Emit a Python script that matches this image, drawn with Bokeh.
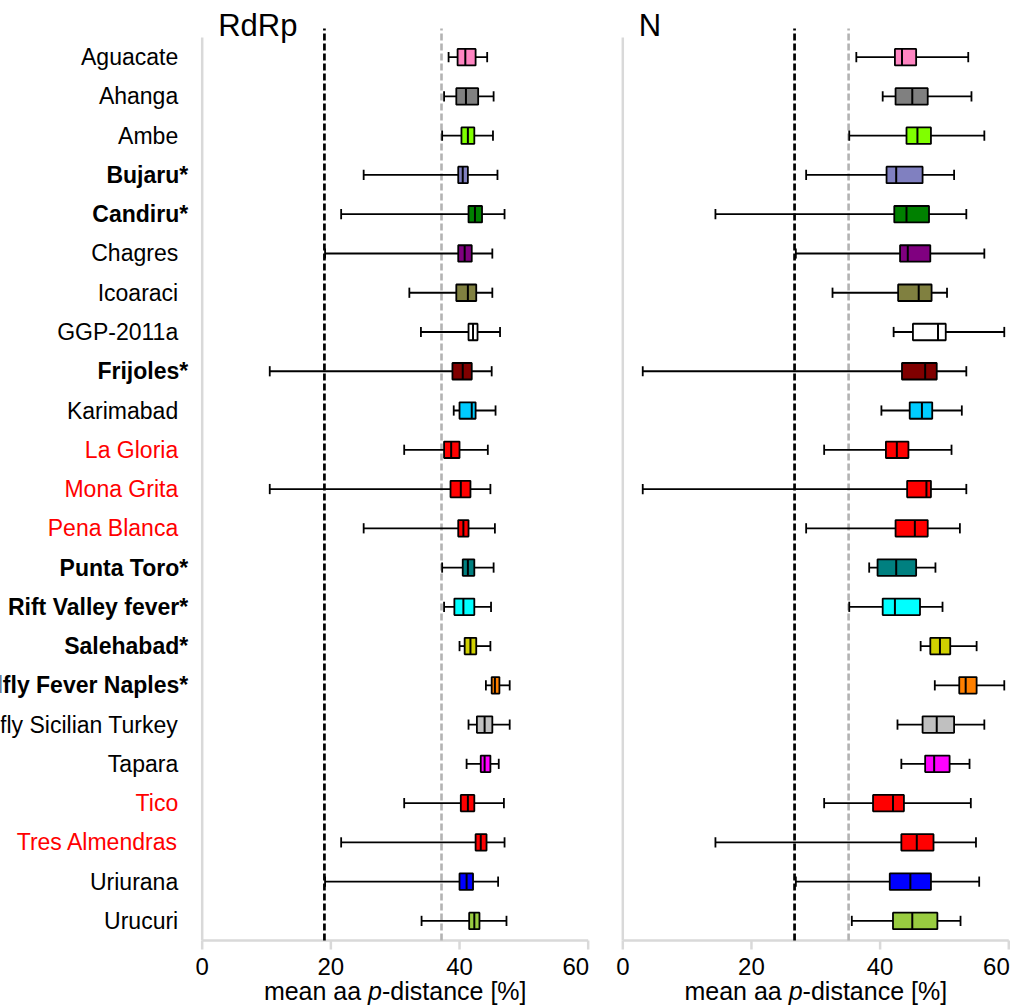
from bokeh.plotting import figure
from bokeh.layouts import row
from bokeh.models import Range1d, ColumnDataSource
from bokeh.core.properties import value
from bokeh.embed import file_html
from bokeh.resources import INLINE

# ---------------- data ----------------
viruses = ["Aguacate", "Ahanga", "Ambe", "Bujaru*", "Candiru*", "Chagres", "Icoaraci",
           "GGP-2011a", "Frijoles*", "Karimabad", "La Gloria", "Mona Grita", "Pena Blanca",
           "Punta Toro*", "Rift Valley fever*", "Salehabad*", "Sandfly Fever Naples*",
           "Sandfly Sicilian Turkey", "Tapara", "Tico", "Tres Almendras", "Uriurana", "Urucuri"]
bold_names = ["Bujaru*", "Candiru*", "Frijoles*", "Punta Toro*", "Rift Valley fever*",
              "Salehabad*", "Sandfly Fever Naples*"]
red_names = ["La Gloria", "Mona Grita", "Pena Blanca", "Tico", "Tres Almendras"]
box_colors = ["#FF85C2", "#808080", "#80FF00", "#8080C0", "#008000", "#800080", "#808040",
              "#FFFFFF", "#800000", "#00CCFF", "#FF0000", "#FF0000", "#FF0000", "#008080",
              "#00FFFF", "#D0D000", "#FF8000", "#C0C0C0", "#FF00FF", "#FF0000", "#FF0000",
              "#0000FF", "#99CC40"]

rdrp_min = [38.3, 37.6, 37.3, 25.1, 21.6, 19.1, 32.2, 34.0, 10.5, 39.1, 31.4, 10.5, 25.1,
            37.3, 37.6, 40.0, 44.1, 41.4, 41.1, 31.4, 21.6, 19.1, 34.1]
rdrp_q1 = [39.7, 39.5, 40.3, 39.8, 41.4, 39.8, 39.5, 41.4, 38.9, 40.0, 37.6, 38.6, 39.8,
           40.5, 39.2, 40.8, 45.0, 42.7, 43.3, 40.2, 42.5, 40.0, 41.5]
rdrp_med = [40.9, 41.0, 41.3, 40.5, 42.4, 40.8, 41.3, 42.1, 40.5, 41.9, 38.7, 40.2, 40.6,
            41.3, 40.6, 41.7, 45.5, 43.9, 43.9, 41.3, 43.3, 41.1, 42.3]
rdrp_q3 = [42.5, 42.9, 42.3, 41.3, 43.5, 41.9, 42.6, 42.8, 41.9, 42.5, 40.0, 41.7, 41.4,
           42.3, 42.3, 42.6, 46.2, 45.1, 44.8, 42.3, 44.2, 42.1, 43.1]
rdrp_max = [44.3, 45.3, 45.2, 45.9, 47.0, 45.1, 45.1, 46.3, 45.0, 45.6, 44.4, 44.8, 45.5,
            45.3, 44.9, 44.8, 47.8, 47.8, 46.1, 46.9, 47.0, 46.0, 47.3]

n_min = [36.3, 40.4, 35.2, 28.5, 14.4, 26.9, 32.6, 42.1, 3.1, 40.2, 31.3, 3.1, 28.5,
         38.3, 35.2, 46.3, 48.5, 42.7, 43.3, 31.3, 14.4, 26.9, 35.6]
n_q1 = [42.3, 42.4, 44.1, 41.0, 42.2, 43.1, 42.8, 45.1, 43.4, 44.6, 40.9, 44.2, 42.4,
        39.6, 40.4, 47.8, 52.3, 46.6, 47.0, 38.9, 43.3, 41.5, 42.0]
n_med = [43.4, 45.0, 45.8, 42.5, 44.1, 44.3, 46.0, 49.0, 47.0, 46.5, 42.6, 47.2, 45.4,
         42.5, 42.3, 49.3, 53.3, 48.8, 48.4, 42.0, 45.7, 44.7, 45.0]
n_q3 = [45.6, 47.4, 47.9, 46.6, 47.6, 47.8, 48.0, 50.2, 48.8, 48.1, 44.4, 47.9, 47.4,
        45.6, 46.2, 50.9, 55.0, 51.5, 50.8, 43.7, 48.3, 47.9, 48.9]
n_max = [53.7, 54.2, 56.2, 51.5, 53.4, 56.2, 50.4, 59.3, 53.4, 52.7, 51.1, 53.4, 52.4,
         48.6, 49.7, 55.0, 59.3, 56.2, 53.9, 54.1, 54.9, 55.4, 52.5]

rdrp_thresholds = [19.0, 37.2]
n_thresholds = [26.7, 35.1]
x_ticks = [0, 20, 40, 60]
axis_title_parts = [("mean aa ", "normal"), ("p", "italic"), ("-distance [%]", "normal")]

# ---------------- styling / layout ----------------
FONT = "Liberation Sans"
AXIS_GRAY = "#d9d9d9"
PX_X = 6.433          # pixels per % unit
PX_Y = 39.26          # pixels per row
ROW0_PX = 920.4       # canvas y of bottom row
H = 1007
ROW_TOP = 22.5
Y_TOP = 22.73
BOX_H = 0.42
CAP_H = 0.13

ADV = {"m": .833, "e": .556, "a": .556, "n": .556, " ": .278, "p": .556, "-": .333,
       "d": .556, "i": .222, "s": .5, "t": .278, "c": .5, "[": .278, "%": .889, "]": .278}


def make_panel(title, mins, q1, med, q3, maxs, thresholds, show_names, width, zero_px):
    n = len(viruses)
    ys = [n - 1 - i for i in range(n)]
    x_range = Range1d(-zero_px / PX_X, (width - zero_px) / PX_X)
    y_range = Range1d(-(H - ROW0_PX) / PX_Y, ROW0_PX / PX_Y)
    p = figure(width=width, height=H, title=None, x_range=x_range, y_range=y_range,
               x_axis_location=None, y_axis_location=None,
               output_backend="svg", toolbar_location=None,
               min_border=0)
    p.outline_line_color = None
    p.xgrid.visible = False
    p.ygrid.visible = False

    # axes drawn as glyphs
    p.segment(x0=[0], y0=[-0.5], x1=[0], y1=[ROW_TOP], line_color=AXIS_GRAY, line_width=2.5)
    p.segment(x0=[0], y0=[-0.5], x1=[x_ticks[-1]], y1=[-0.5], line_color=AXIS_GRAY, line_width=2.5)
    tick_len = 9 / PX_Y
    p.segment(x0=x_ticks, y0=[-0.5] * len(x_ticks), x1=x_ticks, y1=[-0.5 - tick_len] * len(x_ticks),
              line_color=AXIS_GRAY, line_width=2.5)
    p.text(x=x_ticks, y=[-0.5 - 26 / PX_Y] * len(x_ticks), text=[str(t) for t in x_ticks],
           text_font=value(FONT), text_font_size=value("24px"), text_color="black",
           text_align=["center"] * (len(x_ticks) - 1) + ["right"],
           x_offset=[0] * (len(x_ticks) - 1) + [1], text_baseline="middle")

    # threshold lines
    p.segment(x0=[thresholds[0]], y0=[-0.5], x1=[thresholds[0]], y1=[Y_TOP],
              line_color="black", line_width=2.7, line_dash="7 3")
    p.segment(x0=[thresholds[1]], y0=[-0.5], x1=[thresholds[1]], y1=[Y_TOP],
              line_color="#b3b3b3", line_width=2.6, line_dash="7 3")

    src = ColumnDataSource(dict(
        y=ys, mins=mins, q1=q1, med=med, q3=q3, maxs=maxs, color=box_colors,
        blo=[y - BOX_H / 2 for y in ys], bhi=[y + BOX_H / 2 for y in ys],
        clo=[y - CAP_H for y in ys], chi=[y + CAP_H for y in ys]))

    p.segment(x0="mins", y0="y", x1="maxs", y1="y", source=src, line_color="black", line_width=1.8)
    p.segment(x0="mins", y0="clo", x1="mins", y1="chi", source=src, line_color="black", line_width=1.8)
    p.segment(x0="maxs", y0="clo", x1="maxs", y1="chi", source=src, line_color="black", line_width=1.8)
    p.hbar(y="y", left="q1", right="q3", height=BOX_H, source=src, fill_color="color",
           line_color="black", line_width=1.8)
    p.segment(x0="med", y0="blo", x1="med", y1="bhi", source=src, line_color="black", line_width=2)

    # panel title
    p.text(x=[0], y=[ROW_TOP + 12.5 / PX_Y], text=[title], x_offset=16,
           text_font=value(FONT), text_font_size=value("31px"), text_color="black",
           text_align="left", text_baseline="middle")

    # axis title (mixed style)
    widths = [sum(ADV[c] for c in s) * 25 for s, _ in axis_title_parts]
    offs = []
    start = -sum(widths) / 2
    for w in widths:
        offs.append(start)
        start += w
    mid = (x_ticks[0] + x_ticks[-1]) / 2
    p.text(x=[mid] * len(axis_title_parts), y=[-0.5 - 50 / PX_Y] * len(axis_title_parts),
           text=[s for s, _ in axis_title_parts], x_offset=offs,
           text_font_style=[st for _, st in axis_title_parts],
           text_font=value(FONT), text_font_size=value("25px"), text_color="black",
           text_align="left", text_baseline="middle")

    # category labels
    if show_names:
        is_bold = [v in bold_names for v in viruses]
        p.text(x=[0] * n, y=ys, text=viruses,
               x_offset=[-14 if b else -24 for b in is_bold],
               text_font_style=["bold" if b else "normal" for b in is_bold],
               text_color=["#FF0000" if v in red_names else "black" for v in viruses],
               text_font=value(FONT), text_font_size=value("23px"),
               text_align="right", text_baseline="middle")
    return p


left = make_panel("RdRp", rdrp_min, rdrp_q1, rdrp_med, rdrp_q3, rdrp_max, rdrp_thresholds,
                  True, 612, 201.7)
right = make_panel("N", n_min, n_q1, n_med, n_q3, n_max, n_thresholds,
                   False, 400, 622.3 - 612)

layout = row(left, right)
open("out.html", "w").write(file_html(layout, INLINE))
